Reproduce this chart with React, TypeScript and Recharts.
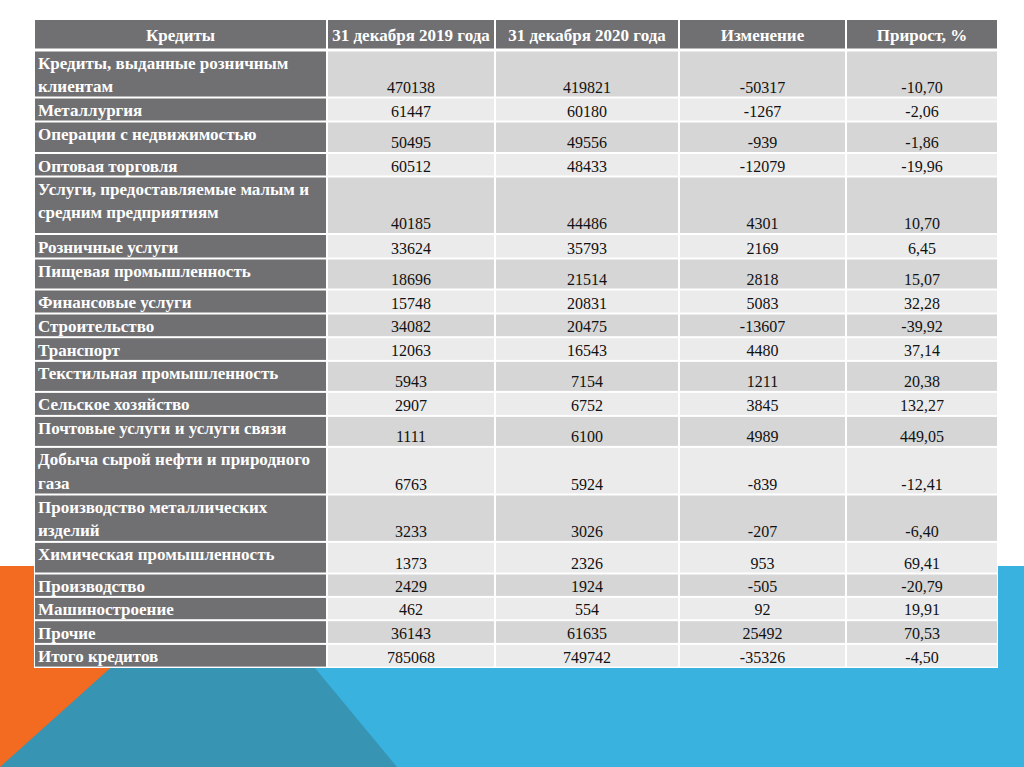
import { ScatterChart, Scatter, XAxis, YAxis, ReferenceArea } from 'recharts'

const headers = ['Кредиты', '31 декабря 2019 года', '31 декабря 2020 года', 'Изменение', 'Прирост, %']

const categories = [
  'Кредиты, выданные розничным\nклиентам',
  'Металлургия',
  'Операции с недвижимостью',
  'Оптовая торговля',
  'Услуги, предоставляемые малым и\nсредним предприятиям',
  'Розничные услуги',
  'Пищевая промышленность',
  'Финансовые услуги',
  'Строительство',
  'Транспорт',
  'Текстильная промышленность',
  'Сельское хозяйство',
  'Почтовые услуги и услуги связи',
  'Добыча сырой нефти и природного\nгаза',
  'Производство металлических\nизделий',
  'Химическая промышленность',
  'Производство',
  'Машиностроение',
  'Прочие',
  'Итого кредитов',
]

const values2019 = [470138, 61447, 50495, 60512, 40185, 33624, 18696, 15748, 34082, 12063, 5943, 2907, 1111, 6763, 3233, 1373, 2429, 462, 36143, 785068]
const values2020 = [419821, 60180, 49556, 48433, 44486, 35793, 21514, 20831, 20475, 16543, 7154, 6752, 6100, 5924, 3026, 2326, 1924, 554, 61635, 749742]
const changes = [-50317, -1267, -939, -12079, 4301, 2169, 2818, 5083, -13607, 4480, 1211, 3845, 4989, -839, -207, 953, -505, 92, 25492, -35326]
const growth = [-10.7, -2.06, -1.86, -19.96, 10.7, 6.45, 15.07, 32.28, -39.92, 37.14, 20.38, 132.27, 449.05, -12.41, -6.4, 69.41, -20.79, 19.91, 70.53, -4.5]

// layout, in px (axes run 0..W and 0..H, so one unit is one pixel)
const W = 1024
const H = 767
const COL_EDGES = [34, 327, 495, 679, 846, 998]
const HEADER_TOP = 19.5
const HEADER_BOTTOM = 49.5
const BODY_TOP = 50.5
const ROW_HEIGHTS = [47, 24, 31.5, 23.5, 57.5, 24.5, 31, 24, 23.7, 23.7, 31, 24, 31, 47.6, 47.4, 31.6, 23.4, 23.3, 23.7, 23.7]
const BAND_TOP = 566
const TABLE_BOTTOM = BODY_TOP + ROW_HEIGHTS.reduce((a, b) => a + b, 0)

const DARK = '#707073'
const ROW_FILLS = ['#d6d6d6', '#ebebeb']
const FONT = '"Liberation Serif", "Times New Roman", "DejaVu Serif", serif'

const fmtGrowth = (v: number) => v.toFixed(2).replace('.', ',')

type Cell = {
  x: number
  y: number
  w: number
  h: number
  lines: string[]
  kind: 'head' | 'label' | 'value'
  fill: string
}

function buildCells(): Cell[] {
  const cells: Cell[] = []
  const colBox = (c: number) => ({ left: COL_EDGES[c] + 1, right: COL_EDGES[c + 1] - 1 })

  headers.forEach((t, c) => {
    const { left, right } = colBox(c)
    const top = HEADER_TOP + 0.5
    const bottom = HEADER_BOTTOM - 1
    cells.push({ x: (left + right) / 2, y: (top + bottom) / 2, w: right - left, h: bottom - top, lines: [t], kind: 'head', fill: DARK })
  })

  let rowTop = BODY_TOP
  categories.forEach((name, r) => {
    const top = rowTop + 1
    const bottom = rowTop + ROW_HEIGHTS[r] - 1
    const texts = [
      name,
      String(values2019[r]),
      String(values2020[r]),
      String(changes[r]),
      fmtGrowth(growth[r]),
    ]
    texts.forEach((t, c) => {
      const { left, right } = colBox(c)
      cells.push({
        x: (left + right) / 2,
        y: (top + bottom) / 2,
        w: right - left,
        h: bottom - top,
        lines: t.split('\n'),
        kind: c === 0 ? 'label' : 'value',
        fill: c === 0 ? DARK : ROW_FILLS[r % 2],
      })
    })
    rowTop += ROW_HEIGHTS[r]
  })
  return cells
}

const cells = buildCells()

function CellShape(props: any) {
  const { cx, cy, payload } = props
  const { w, h, lines, kind, fill } = payload as Cell
  const x0 = cx - w / 2
  const y0 = cy - h / 2
  let text
  if (kind === 'head') {
    text = (
      <text x={cx} y={y0 + 21} textAnchor="middle" fill="#ffffff" style={{ fontFamily: FONT, fontWeight: 'bold', fontSize: 17 }}>
        {lines[0]}
      </text>
    )
  } else if (kind === 'label') {
    text = (
      <text fill="#ffffff" style={{ fontFamily: FONT, fontWeight: 'bold', fontSize: 17 }}>
        {lines.map((l, i) => (
          <tspan key={i} x={x0 + 3} y={y0 + 17.5 + i * 23.3}>{l}</tspan>
        ))}
      </text>
    )
  } else {
    text = (
      <text x={cx} y={y0 + h - 4} textAnchor="middle" fill="#111111" style={{ fontFamily: FONT, fontSize: 16 }}>
        {lines[0]}
      </text>
    )
  }
  return (
    <g>
      <rect x={x0} y={y0} width={w} height={h} fill={fill} />
      {text}
    </g>
  )
}

const teal = (p: any) => {
  const { x, y, width, height } = p
  const topRight = x + width * 0.58
  return <polygon points={`${x},${y} ${topRight},${y} ${x + width},${y + height} ${x},${y + height}`} fill="#3894b3" />
}

const orange = (p: any) => {
  const { x, y, width, height } = p
  return <polygon points={`${x},${y} ${x + width},${y} ${x},${y + height}`} fill="#f36a21" />
}

export default function App() {
  return (
    <div style={{ position: 'fixed', left: 0, top: 0, width: W, height: H, background: '#ffffff' }}>
      <ScatterChart width={W} height={H} margin={{ top: 0, right: 0, bottom: 0, left: 0 }}>
        <XAxis type="number" dataKey="x" domain={[0, W]} hide />
        <YAxis type="number" dataKey="y" domain={[0, H]} reversed hide />
        <ReferenceArea x1={0} x2={W} y1={BAND_TOP} y2={H} fill="#39b2df" fillOpacity={1} stroke="none" />
        <ReferenceArea x1={0} x2={397} y1={BAND_TOP} y2={H} shape={teal} />
        <ReferenceArea x1={0} x2={224} y1={BAND_TOP} y2={H} shape={orange} />
        <ReferenceArea x1={COL_EDGES[0]} x2={COL_EDGES[COL_EDGES.length - 1]} y1={HEADER_TOP} y2={TABLE_BOTTOM + 0.5} fill="#ffffff" fillOpacity={1} stroke="none" />
        <Scatter data={cells} shape={CellShape} isAnimationActive={false} />
      </ScatterChart>
    </div>
  )
}
